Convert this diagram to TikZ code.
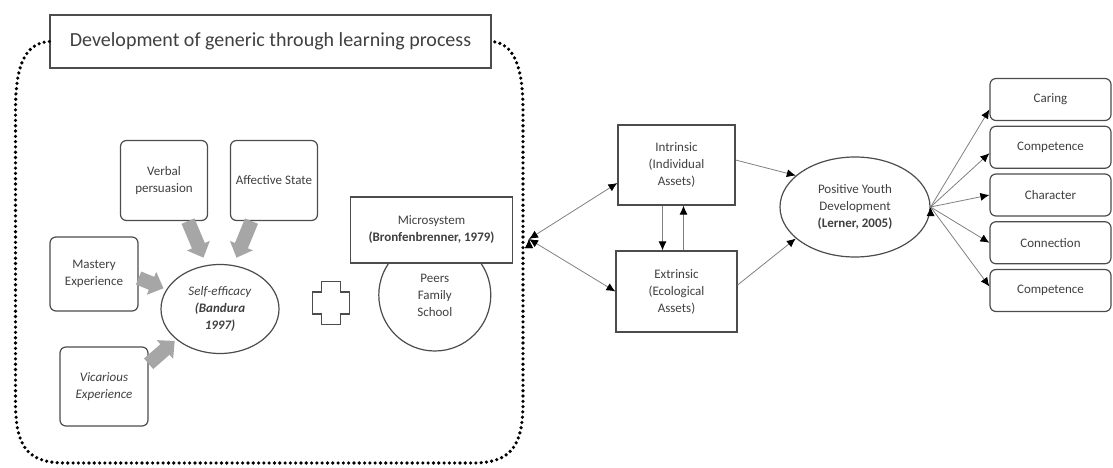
\documentclass[tikz,border=0pt]{standalone}
\usepackage{fontspec}
\setmainfont{Carlito}
\usetikzlibrary{positioning,shapes.geometric,arrows.meta}

\begin{document}
\begin{tikzpicture}[x=1pt,y=-1pt,node distance=47.75pt,on grid,
    every node/.style={font=\fontsize{13}{17}\selectfont,text=black!75,align=center},
    box/.style={draw=black!70,line width=1.2pt,fill=white,inner sep=2pt},
    rbox/.style={box,rounded corners=6pt},
    outbox/.style={rbox,minimum width=121pt,minimum height=42pt},
    oval/.style={draw=black!70,line width=1.2pt,ellipse,inner sep=0pt},
    link/.style={draw=black!50,line width=0.8pt,-{Latex[length=9pt,width=8pt,black]}},
    twolink/.style={draw=black!50,line width=0.8pt,{Latex[length=9pt,width=8pt,black]}-{Latex[length=9pt,width=8pt,black]}},
    bigarrow/.style={draw=black!35,line width=14pt,-{Triangle[length=13pt,width=24pt]},shorten >=8pt},
    dotframe/.style={line width=3.6pt,line cap=round,dash pattern=on 0pt off 5.3pt}]
  \useasboundingbox (0,0) rectangle (1113,468);

  % learning process frame
  \node[box,minimum width=441pt,minimum height=53pt,font=\fontsize{20}{24}\selectfont] (title) at (270.5,41.5) {Development of generic through learning process};
  \draw[dotframe] (title.west) .. controls (25,43) and (15.5,65) .. (15.5,110) -- (15.5,402)
    .. controls (15.5,448) and (28,463) .. (66,463) -- (472,463)
    .. controls (510,463) and (523,448) .. (523,402) -- (523,110)
    .. controls (523,65) and (513,43) .. (title.east);

  % sources of self-efficacy
  \node[rbox,minimum width=87pt,minimum height=80pt] (verbal) at (164,180.5) {Verbal\\persuasion};
  \node[rbox,minimum width=87pt,minimum height=80pt] (affective) at (274,180.5) {Affective State};
  \node[rbox,minimum width=88pt,minimum height=74pt] (mastery) at (94,274) {Mastery\\Experience};
  \node[rbox,minimum width=88pt,minimum height=79pt] (vicarious) at (104,386.5) {\textit{Vicarious}\\\textit{Experience}};
  \node[oval,minimum width=118pt,minimum height=89pt] (self) at (220,309) {\textit{Self-efficacy}\\\textbf{\textit{(Bandura}}\\\textbf{\textit{1997)}}};

  \draw[bigarrow] ([xshift=24pt]verbal.south) -- (self.107);
  \draw[bigarrow] ([xshift=-22.5pt]affective.south) -- (self.73);
  \draw[bigarrow,shorten >=3pt] ([yshift=-4pt]mastery.east) -- (self.160);
  \draw[bigarrow,shorten >=2pt] (vicarious.27) -- (self.215);

  % plus sign
  \coordinate (plus) at (331,303);
  \draw[black!70,line width=1.2pt] ([shift={(-9.8,-21.5)}]plus) -- ++(19.6,0) -- ++(0,10.5) -- ++(8.7,0)
    -- ++(0,22) -- ++(-8.7,0) -- ++(0,10.5) -- ++(-19.6,0) -- ++(0,-10.5) -- ++(-8.7,0)
    -- ++(0,-22) -- ++(8.7,0) -- cycle;

  % microsystem
  \node[oval,circle,minimum size=112pt] (peers) at (434.8,295) {Peers\\Family\\School};
  \node[box,minimum width=162pt,minimum height=66pt] (micro) at (431.5,230) {Microsystem\\\textbf{(Bronfenbrenner, 1979)}};

  % assets
  \coordinate (hub) at (529,239);
  \node[box,minimum width=117pt,minimum height=80pt] (intrinsic) at (676.5,165) {Intrinsic\\(Individual\\Assets)};
  \node[box,minimum width=121pt,minimum height=81pt] (extrinsic) at (676.5,291.5) {Extrinsic\\(Ecological\\Assets)};
  \node[oval,minimum width=150pt,minimum height=100pt] (pyd) at (855,207) {Positive Youth\\Development\\\textbf{(Lerner, 2005)}};

  % outcomes
  \node[outbox] (caring) at (1050.5,99.5) {Caring};
  \node[outbox] (competence_a) [below=of caring] {Competence};
  \node[outbox] (character) [below=of competence_a] {Character};
  \node[outbox] (connection) [below=of character] {Connection};
  \node[outbox] (competence_b) [below=of connection] {Competence};

  \path[twolink]
    (hub) edge ([yshift=-18pt]intrinsic.west)
          edge (extrinsic.west);
  \path[link]
    ([xshift=-14pt]intrinsic.south) edge ([xshift=-14pt]extrinsic.north)
    ([xshift=7pt]extrinsic.north) edge ([xshift=7pt]intrinsic.south)
    ([yshift=5pt]intrinsic.east) edge (pyd.152)
    ([yshift=6.5pt]extrinsic.east) edge (pyd.208)
    (pyd.east) edge ([yshift=-10pt]caring.west)
               edge ([yshift=-6pt]competence_a.west)
               edge (character.west)
               edge (connection.west)
               edge ([yshift=4pt]competence_b.west);
\end{tikzpicture}
\end{document}
